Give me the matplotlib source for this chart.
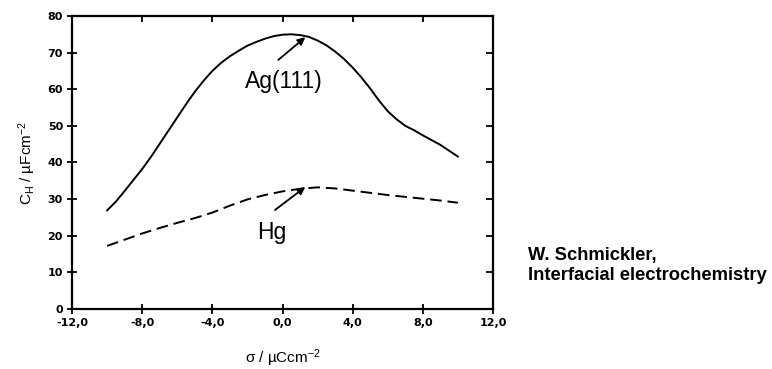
import matplotlib
matplotlib.use("Agg")
import matplotlib.pyplot as plt

plt.rcParams["mathtext.fontset"] = "custom"
plt.rcParams["mathtext.rm"] = "Liberation Sans"
plt.rcParams["mathtext.it"] = "Liberation Sans:italic"
plt.rcParams["mathtext.bf"] = "Liberation Sans:bold"

# Data
ag_x = [-10, -9.5, -9, -8.5, -8, -7.5, -7, -6.5, -6, -5.5, -5, -4.5, -4, -3.5, -3, -2.5,
        -2, -1.5, -1, -0.5, 0, 0.5, 1, 1.5, 2, 2.5, 3, 3.5, 4, 4.5, 5, 5.5, 6, 6.5,
        7, 7.5, 8, 8.5, 9, 9.5, 10]
ag_y = [26.9, 29.3, 32.2, 35.2, 38.2, 41.5, 45.1, 48.7, 52.3, 55.9, 59.3, 62.3, 65.0, 67.2,
        69.0, 70.5, 71.9, 72.9, 73.8, 74.5, 74.9, 75.0, 74.8, 74.3, 73.3, 72.0, 70.3, 68.3,
        65.9, 63.2, 60.2, 56.9, 54.0, 51.8, 50.0, 48.8, 47.4, 46.1, 44.8, 43.2, 41.6]

hg_x = [-10, -9, -8, -7, -6, -5, -4, -3, -2, -1, 0, 1, 2, 3, 4, 5, 6, 7, 8, 9, 10]
hg_y = [17.2, 18.9, 20.6, 22.1, 23.5, 24.8, 26.3, 28.2, 29.9, 31.1, 32.1, 32.8, 33.2, 32.9,
        32.3, 31.7, 31.1, 30.6, 30.1, 29.6, 29.0]

xticks = [-12, -8, -4, 0, 4, 8, 12]
xticklabels = ["-12,0", "-8,0", "-4,0", "0,0", "4,0", "8,0", "12,0"]
yticks = [0, 10, 20, 30, 40, 50, 60, 70, 80]
yticklabels = ["0", "10", "20", "30", "40", "50", "60", "70", "80"]

fig = plt.figure(figsize=(7.72, 3.69), dpi=100)
ax = fig.add_axes([72/772, 1 - 308.9/369, (493-72)/772, (308.9-16)/369])

ax.plot(ag_x, ag_y, color="black", lw=1.4, solid_joinstyle="round")
ax.plot(hg_x, hg_y, color="black", lw=1.4, dashes=(6, 3))

ax.set_xlim(-12, 12)
ax.set_ylim(0, 80)
ax.set_xticks(xticks)
ax.set_xticklabels(xticklabels)
ax.set_yticks(yticks)
ax.set_yticklabels(yticklabels)

for s in ax.spines.values():
    s.set_linewidth(1.6)

ax.tick_params(axis="both", which="both", left=True, bottom=True, top=False, right=False,
               direction="inout", length=7, width=1.3, pad=3, labelsize=8)
for lab in ax.get_xticklabels() + ax.get_yticklabels():
    lab.set_fontweight("bold")
    lab.set_family("DejaVu Sans")

# inward ticks on top and right
sec_x = ax.secondary_xaxis("top")
sec_x.set_xticks(xticks)
sec_x.tick_params(direction="in", length=4, width=1.3, labeltop=False)
sec_x.spines["top"].set_visible(False)
sec_y = ax.secondary_yaxis("right")
sec_y.set_yticks(yticks)
sec_y.tick_params(direction="in", length=5, width=1.3, labelright=False)
sec_y.spines["right"].set_visible(False)

font = "Liberation Sans"
ax.set_xlabel("σ / µCcm$^{-2}$", family=font, fontsize=11, labelpad=14)
ax.set_ylabel("C$_\\mathrm{H}$ / µFcm$^{-2}$", family=font, fontsize=11, labelpad=7)

arrow = dict(arrowstyle="-|>", color="black", lw=1.3, mutation_scale=11,
             shrinkA=0, shrinkB=0)
ax.text(0.1, 62, "Ag(111)", family=font, fontsize=16.5, ha="center", va="center")
ax.annotate("", xy=(1.3, 74.2), xytext=(-0.24, 68.0), arrowprops=arrow)
ax.text(-0.6, 21, "Hg", family=font, fontsize=16.5, ha="center", va="center")
ax.annotate("", xy=(1.3, 33.3), xytext=(-0.43, 27.0), arrowprops=arrow)

fig.text(528/772, 1 - 260/369, "W. Schmickler,", family=font, fontweight="bold",
         fontsize=13.2, ha="left", va="baseline")
fig.text(528/772, 1 - 280/369, "Interfacial electrochemistry", family=font,
         fontweight="bold", fontsize=13.2, ha="left", va="baseline")

fig.savefig("out.png", dpi=100)
